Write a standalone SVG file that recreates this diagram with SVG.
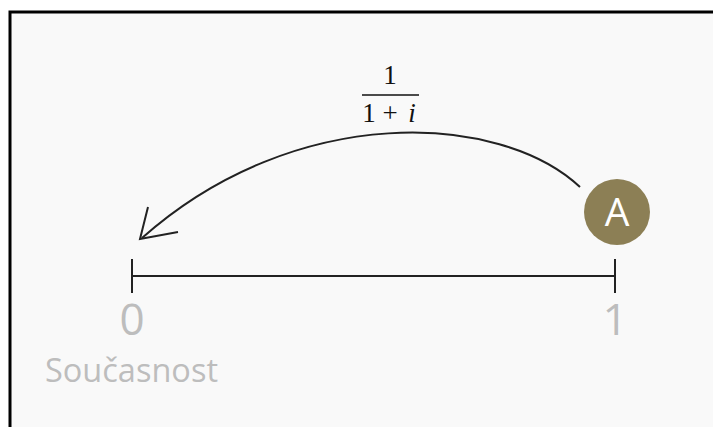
<svg xmlns="http://www.w3.org/2000/svg" width="713" height="427" viewBox="0 0 713 427">
<style>
.ax{stroke:#222;stroke-width:2;fill:none}
.lbl{font-family:"Open Sans","Noto Sans","Liberation Sans",sans-serif;fill:#bdbdbd}
.math{font-family:"Liberation Serif","DejaVu Serif",serif;fill:#111;font-size:27px}
</style>
<rect x="10" y="12" width="720" height="430" fill="#f9f9f9" stroke="#000" stroke-width="3"/>
<g id="connectors">
<path class="ax" d="M580,187 C500,112 295,102 142,238"/>
<path class="ax" d="M148,207 L140,239 L178,232"/>
</g>
<g id="axis">
<line class="ax" x1="132" y1="276" x2="615" y2="276"/>
<line class="ax" x1="132" y1="259" x2="132" y2="293"/>
<line class="ax" x1="615" y1="259" x2="615" y2="293"/>
</g>
<g id="label-0"><text class="lbl" x="132" y="335" font-size="44" text-anchor="middle">0</text></g>
<g id="label-1"><text class="lbl" x="615" y="335" font-size="44" text-anchor="middle">1</text></g>
<g id="label-now"><text class="lbl" x="45" y="382" font-size="32.5">Současnost</text></g>
<g id="fraction">
<text class="math" x="390" y="84" text-anchor="middle">1</text>
<line x1="362" y1="95" x2="419" y2="95" stroke="#111" stroke-width="1.5"/>
<text class="math" x="369" y="122" text-anchor="middle">1</text>
<text class="math" x="390" y="122" text-anchor="middle">+</text>
<text class="math" x="412" y="122" text-anchor="middle" font-style="italic">i</text>
</g>
<g id="node-A">
<circle cx="617" cy="212" r="33" fill="#8c7f55"/>
<text x="617" y="226" font-size="39" fill="#fff" text-anchor="middle" font-family="'Open Sans','Noto Sans',sans-serif">A</text>
</g>
</svg>
